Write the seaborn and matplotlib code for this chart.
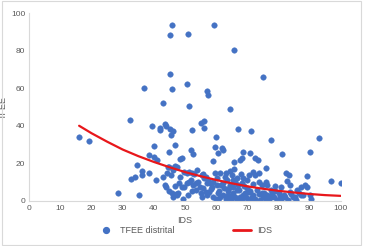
import numpy as np
import pandas as pd
import matplotlib
matplotlib.use("Agg")
import matplotlib.pyplot as plt
import seaborn as sns
from matplotlib.patches import Rectangle
from matplotlib.lines import Line2D

# Scatter data: IDS (x) vs TFEE distrital (y)
ids_vals = [
    45.7, 45.1, 50.9, 59.3, 65.7, 45.1, 74.9, 36.7, 45.8, 50.5, 57.0, 57.3, 42.9, 51.3, 64.3,
    32.4, 55.0, 56.0, 56.2, 39.4, 42.0, 42.1, 43.5, 43.8, 45.3, 46.1, 45.5, 52.4, 67.0, 71.2,
    16.1, 19.2, 60.0, 77.6, 93.1, 40.0, 46.8, 51.8, 52.7, 59.5, 62.0, 62.3, 60.6, 38.3, 40.0,
    40.9, 44.9, 48.4, 49.0, 59.1, 68.7, 70.9, 81.2, 90.3, 72.6, 73.3, 68.2, 67.7, 65.8, 34.7,
    36.2, 36.2, 38.3, 32.6, 33.9, 40.7, 42.9, 44.4, 45.0, 46.0, 46.7, 43.7, 43.8, 46.8, 28.6,
    35.2, 49.4, 50.5, 49.8,
    50.5, 51.4, 52.2, 53.0, 51.2, 51.8, 52.7, 53.5, 52.1, 51.1, 54.3, 54.9, 55.7, 55.2, 56.6,
    57.2, 55.5, 57.9, 58.8, 57.8, 59.1, 60.0, 60.7, 59.1, 61.6, 62.2, 63.0, 63.3, 62.6, 63.8,
    64.5, 64.9, 63.6, 67.0, 68.4, 69.1, 69.8, 70.7, 69.3, 67.7, 66.8, 70.3, 71.4, 71.9, 73.0,
    73.9, 73.8, 71.9, 72.5, 76.0, 76.2, 77.6, 78.9, 80.1, 81.0, 81.7, 82.4, 83.4, 82.9, 83.7,
    84.8, 86.1, 87.3, 88.5, 89.1, 89.2, 90.1, 90.5, 86.5, 73.8, 75.2, 76.9, 78.6, 80.7, 97.0,
    100.0, 65.8, 67.9, 76.1,
    65.5, 66.1, 66.6, 68.2, 68.7, 69.6, 70.9, 72.0, 72.5, 74.1, 74.6, 76.0, 76.5, 77.6, 78.0,
    79.5, 80.5, 82.1, 83.2, 83.7, 85.3, 85.8, 87.4, 60.7, 61.2, 62.1, 63.2, 63.9, 65.5, 66.1,
    66.6, 64.5, 65.0, 60.2, 59.6, 61.2, 56.8, 55.9, 53.8,
    57.0, 60.2, 65.5, 64.5, 68.7, 69.8, 70.5, 74.6,
    44.1, 45.5, 46.3, 47.3, 48.4, 49.7, 48.9, 48.1, 44.9, 45.7, 47.0, 47.5, 47.8, 46.3,
    55.4, 56.1, 53.5, 57.5, 58.5, 61.0, 64.0, 67.5, 71.0, 75.5, 79.0, 84.0, 88.0,
]
tfee_vals = [
    93.8, 88.6, 89.1, 94.0, 80.6, 67.8, 66.0, 60.1, 59.8, 62.5, 58.7, 56.6, 52.3, 50.5, 48.9,
    42.9, 41.3, 42.7, 39.0, 40.0, 39.0, 37.7, 40.9, 39.9, 38.3, 37.2, 34.9, 37.9, 38.3, 37.0,
    34.0, 32.0, 34.0, 32.2, 33.3, 29.4, 29.7, 27.0, 24.9, 28.8, 28.1, 27.2, 25.4, 24.6, 23.5,
    21.7, 26.2, 22.1, 22.8, 21.0, 26.0, 25.6, 25.1, 25.8, 22.8, 21.7, 23.0, 21.7, 20.6, 19.2,
    15.7, 13.7, 14.8, 11.7, 12.8, 11.2, 12.8, 17.8, 18.2, 17.4, 18.5, 8.4, 7.1, 7.8, 3.9,
    3.0, 1.0, 9.6, 7.5,
    14.9, 15.5, 14.6, 14.2, 10.1, 11.0, 8.2, 5.7, 5.3, 3.0, 10.1, 7.5, 6.6, 4.3, 4.6,
    3.0, 2.1, 9.3, 7.5, 4.8, 2.1, 0.7, 3.9, 10.1, 8.4, 9.6, 12.8, 14.6, 6.6, 5.3,
    2.1, 0.4, 11.0, 8.4, 9.6, 8.0, 6.6, 4.8, 3.9, 2.1, 0.4, 0.4, 2.1, 8.7, 5.7,
    10.1, 14.6, 15.5, 13.7, 10.1, 8.4, 5.7, 7.8, 3.9, 7.5, 3.0, 14.6, 13.7, 10.7, 8.4,
    2.1, 5.7, 7.5, 8.4, 7.1, 13.3, 3.0, 0.9, 3.9, 3.4, 2.1, 1.1, 2.1, 0.7, 10.5,
    9.3, 16.9, 14.2, 17.3,
    3.9, 1.8, 5.7, 0.4, 3.0, 1.8, 0.9, 3.0, 1.1, 0.4, 4.1, 0.4, 3.2, 1.8, 4.3,
    0.4, 2.5, 1.8, 0.4, 4.6, 2.1, 0.4, 3.2, 0.4, 2.1, 3.0, 1.1, 3.2, 7.5, 10.1,
    11.9, 8.4, 13.7, 11.9, 14.6, 14.6, 12.8, 14.2, 16.4,
    9.6, 8.4, 11.0, 15.8, 12.1, 11.0, 13.7, 8.4,
    14.6, 13.7, 16.4, 18.1, 12.8, 15.5, 7.5, 9.6, 5.2, 3.9, 3.4, 3.2, 4.3, 2.1,
    13.7, 11.9, 9.6, 11.0, 6.0, 5.0, 7.0, 5.5, 5.0, 4.0, 5.0, 3.5, 2.8,
]

# Trend line "IDS"
trend_x = [16, 20, 25, 30, 35, 40, 45, 50, 55, 60, 65, 70, 75, 80, 85, 90, 95, 100]
trend_y = [40, 36, 31.5, 27.3, 23.8, 20.7, 17.9, 15.3, 13.1, 11.1, 9.3, 7.7, 6.4, 5.3, 4.4, 3.6, 3.0, 2.6]

xticks = [0, 10, 20, 30, 40, 50, 60, 70, 80, 90, 100]
yticks = [0, 20, 40, 60, 80, 100]

sns.set_theme(style="white")
plt.rcParams['font.family'] = ['Liberation Sans', 'DejaVu Sans']

df = pd.DataFrame({"IDS": ids_vals, "TFEE": tfee_vals})
dft = pd.DataFrame({"x": trend_x, "y": trend_y})

fig = plt.figure(figsize=(3.65, 2.46), dpi=100)
ax = fig.add_axes([0.0803, 0.184, 0.853, 0.762])

blue = "#4472C4"
red = "#E8171B"
tick_color = "#595959"

sns.scatterplot(data=df, x="IDS", y="TFEE", ax=ax, color=blue, s=16,
                edgecolor=blue, linewidth=0.3, zorder=2, legend=False)
sns.lineplot(data=dft, x="x", y="y", ax=ax, color=red, linewidth=1.6, zorder=3,
             legend=False)

ax.set_xlim(0, 100)
ax.set_ylim(0, 100)
ax.set_xticks(xticks)
ax.set_yticks(yticks)
ax.tick_params(axis='both', length=0, labelsize=6, colors=tick_color, pad=3)
ax.set_xlabel("IDS", fontsize=6.5, color=tick_color, labelpad=3)
ax.set_ylabel("TFEE", fontsize=6.5, color=tick_color)
ax.yaxis.set_label_coords(-0.068, 0.5)

for side in ["top", "right"]:
    ax.spines[side].set_visible(False)
for side in ["left", "bottom"]:
    ax.spines[side].set_color("#D9D9D9")
    ax.spines[side].set_linewidth(0.8)

handles = [
    Line2D([0], [0], marker='o', linestyle='none', color=blue, markersize=4.2),
    Line2D([0], [0], color=red, linewidth=2),
]
fig.legend(handles, ["TFEE distrital", "IDS"], loc='center', bbox_to_anchor=(0.505, 0.063),
           ncol=2, frameon=False, fontsize=6.5, labelcolor=tick_color,
           columnspacing=6.5, handlelength=2.0, handletextpad=0.6)

fig.patches.append(Rectangle((0.006, 0.006), 0.984, 0.988, transform=fig.transFigure,
                             fill=False, edgecolor="#D9D9D9", linewidth=0.8))

fig.savefig("out.png", dpi=100)
